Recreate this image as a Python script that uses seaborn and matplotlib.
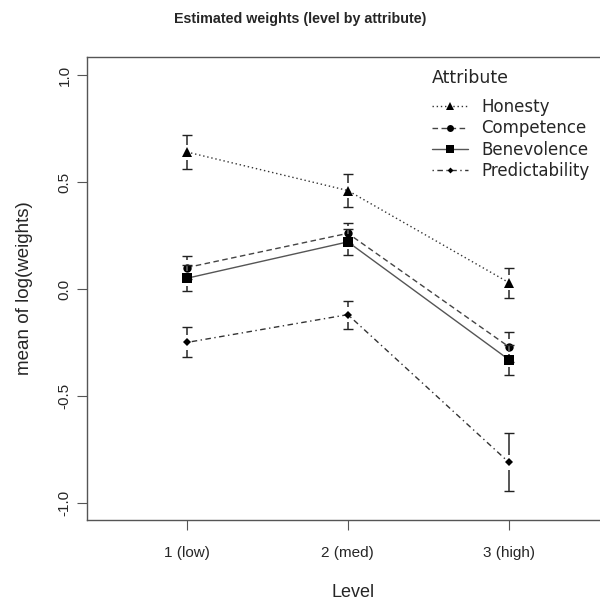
import pandas as pd
import seaborn as sns
import matplotlib.pyplot as plt
from matplotlib.lines import Line2D

# values
levels = ["1 (low)", "2 (med)", "3 (high)"]
attributes = ["Honesty", "Competence", "Benevolence", "Predictability"]
honesty = [0.64, 0.46, 0.03]
competence = [0.10, 0.26, -0.27]
benevolence = [0.05, 0.22, -0.33]
predictability = [-0.25, -0.12, -0.81]
honesty_err = [0.08, 0.075, 0.07]
competence_err = [0.055, 0.05, 0.07]
benevolence_err = [0.06, 0.06, 0.07]
predictability_err = [0.07, 0.065, 0.135]

means = [honesty, competence, benevolence, predictability]
errs = [honesty_err, competence_err, benevolence_err, predictability_err]

rows = []
for att, m, e in zip(attributes, means, errs):
    for i, lev in enumerate(levels):
        rows.append({"Attribute": att, "pos": i + 1, "Level": lev, "mean": m[i], "err": e[i]})
data = pd.DataFrame(rows)

sns.set_style("white")
plt.rcParams['font.family'] = ['Liberation Sans', 'DejaVu Sans']

markers = {"Honesty": "^", "Competence": "o", "Benevolence": "s", "Predictability": "D"}
msizes = {"Honesty": 7, "Competence": 6, "Benevolence": 7, "Predictability": 4}
dashes = {"Honesty": (1, 2), "Competence": (4, 2.5), "Benevolence": "", "Predictability": (1, 2.5, 4, 2.5)}
lcolors = {"Honesty": "#333333", "Competence": "#444444", "Benevolence": "#555555", "Predictability": "#333333"}

fig = plt.figure(figsize=(6, 6), dpi=100)
ax = fig.add_axes([0.145, 0.1333, 0.888, 0.772])

for att in attributes:
    sub = data[data["Attribute"] == att]
    sns.lineplot(data=sub, x="pos", y="mean", ax=ax, color=lcolors[att], lw=1.0,
                 marker=markers[att], markersize=msizes[att], markeredgewidth=0,
                 markerfacecolor="black", dashes=dashes[att], legend=False)
    # error bars drawn with a gap around the point, like plotCI
    gap = 0.035
    cap = 0.03
    for _, r in sub.iterrows():
        x, m, e = r["pos"], r["mean"], r["err"]
        if e > gap:
            ax.vlines(x, m + gap, m + e, color="#555555", lw=1.4)
            ax.vlines(x, m - e, m - gap, color="#555555", lw=1.4)
        ax.hlines([m + e, m - e], x - cap, x + cap, color="#222222", lw=1.0)

ax.set_xlim(0.379, 3.69)
ax.set_ylim(-1.08, 1.085)
ax.set_xticks([1, 2, 3])
ax.set_xticklabels(levels, fontsize=11)
ax.set_yticks([-1.0, -0.5, 0.0, 0.5, 1.0])
ax.set_yticklabels(["-1.0", "-0.5", "0.0", "0.5", "1.0"], fontsize=11, rotation=90, va="center")
ax.tick_params(axis="both", direction="out", length=7, width=0.8, color="#555555",
               bottom=True, left=True)
ax.tick_params(axis="x", pad=12)
ax.tick_params(axis="y", pad=4)
for s in ax.spines.values():
    s.set_color("#555555")
    s.set_linewidth(1.0)

ax.set_xlabel("Level", fontsize=13, labelpad=17)
ax.set_ylabel("mean of log(weights)", fontsize=13.5, labelpad=18)
fig.text(0.5, 0.968, "Estimated weights (level by attribute)", ha="center", va="center",
         fontsize=10.3, fontweight="bold")

handles = [Line2D([], [], color=lcolors[a], lw=1.0, dashes=dashes[a] if dashes[a] else (None, None),
                  marker=markers[a], markersize=msizes[a] - 1, markerfacecolor="black",
                  markeredgewidth=0) for a in attributes]
leg = ax.legend(handles, attributes, title="Attribute", loc="upper left",
                bbox_to_anchor=(0.619, 1.006), frameon=False, handlelength=2.2,
                handletextpad=0.75, labelspacing=0.2,
                prop={"family": "DejaVu Sans", "size": 12},
                title_fontproperties={"family": "DejaVu Sans", "size": 12.5})
leg._legend_box.align = "left"
leg._legend_box.sep = 8

fig.savefig("out.png", dpi=100)
